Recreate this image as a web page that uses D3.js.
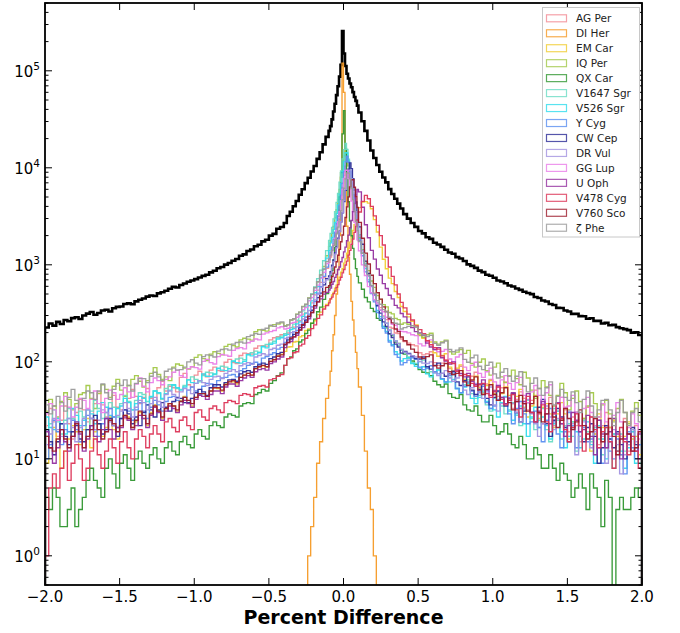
<!DOCTYPE html>
<html><head><meta charset="utf-8">
<script src="https://cdn.jsdelivr.net/npm/d3@7"></script>
<style>body{margin:0;background:#fff}svg{display:block}</style>
</head><body>
<svg id="c" width="680" height="633"></svg>
<script>
// ---- bin edges (percent difference) ----
const binEdges = [-2.000,-1.975,-1.950,-1.925,-1.900,-1.875,-1.850,-1.825,-1.800,-1.775,-1.750,-1.725,-1.700,-1.675,-1.650,-1.625,-1.600,-1.575,-1.550,-1.525,-1.500,-1.475,-1.450,-1.425,-1.400,-1.375,-1.350,-1.325,-1.300,-1.275,-1.250,-1.225,-1.200,-1.175,-1.150,-1.125,-1.100,-1.075,-1.050,-1.025,-1.000,-0.975,-0.950,-0.925,-0.900,-0.875,-0.850,-0.825,-0.800,-0.775,-0.750,-0.725,-0.700,-0.675,-0.650,-0.625,-0.600,-0.575,-0.550,-0.525,-0.500,-0.475,-0.450,-0.425,-0.400,
 -0.38,-0.36,-0.34,-0.32,-0.30,-0.28,-0.26,-0.24,-0.22,-0.20,-0.18,-0.16,-0.14,-0.12,-0.10,
 -0.09,-0.08,-0.07,-0.06,-0.05,-0.04,-0.03,-0.02,-0.01,0,0.01,0.02,0.03,0.04,0.05,0.06,0.07,0.08,0.09,0.10,
 0.12,0.14,0.16,0.18,0.20,0.22,0.24,0.26,0.28,0.30,0.32,0.34,0.36,0.38,0.40,
 0.425,0.450,0.475,0.500,0.525,0.550,0.575,0.600,0.625,0.650,0.675,0.700,0.725,0.750,0.775,0.800,0.825,0.850,0.875,0.900,0.925,0.950,0.975,1.000,1.025,1.050,1.075,1.100,1.125,1.150,1.175,1.200,1.225,1.250,1.275,1.300,1.325,1.350,1.375,1.400,1.425,1.450,1.475,1.500,1.525,1.550,1.575,1.600,1.625,1.650,1.675,1.700,1.725,1.750,1.775,1.800,1.825,1.850,1.875,1.900,1.925,1.950,1.975,2.000];

// ---- total (all stars) counts ----
const totalCounts = [226,248,236,258,245,270,262,282,288,276,300,314,326,306,318,338,344,330,356,368,372,394,400,392,420,436,450,470,482,476,508,522,540,566,592,584,620,642,668,690,712,739,768,790,836,868,922,948,1005,1042,1100,1148,1238,1280,1390,1440,1555,1612,1745,1815,2000,2085,2350,2450,
 2700,3190,3520,4010,4540,5280,6000,6950,7900,9150,10450,12350,14450,17450,20850,
 24000,26900,31600,38000,45700,56200,69200,87100,115000,257000,151000,112000,93300,83200,74100,67600,60300,53700,49000,43700,
 37200,30200,24000,19100,15100,12600,10700,9120,7940,7080,6030,5370,4790,4270,3800,
 3330,2990,2700,2460,2230,2110,1920,1850,1690,1620,1530,1430,1340,1300,1200,1160,1095,1010,975,930,870,840,790,770,735,690,672,645,612,598,570,552,528,512,498,465,455,428,418,395,385,360,358,338,330,312,312,296,295,278,281,264,264,248,252,238,240,228,222,217,212,200,201,189];

// ---- per-star counts ----
const agPer = [22,33,24,17,25,35,23,16,30,41,32,24,26,37,49,36,27,33,45,34,32,26,42,52,44,37,43,53,42,36,54,63,50,56,54,49,69,76,58,55,73,80,74,70,82,88,81,80,99,106,98,96,116,123,121,120,138,146,147,145,168,177,182,190,
 195,198,226,228,258,266,310,320,380,405,490,548,660,740,920,
 1060,1200,1430,1640,2010,2380,2980,3690,4810,6280,8350,10400,12100,10500,8280,6350,4750,3740,2930,2420,
 1800,1330,960,780,605,510,410,362,298,272,228,222,198,195,172,
 162,156,150,146,124,118,121,127,98,92,97,104,85,79,84,90,66,61,71,78,55,48,59,66,51,44,54,62,40,33,41,49,42,32,40,51,30,23,33,43,22,31,43,32,19,27,22,15,25,34,27,18,14,22,30,21,18,12,17,26,12,19,22,14];

const diHer = [0,0,0,0,0,0,0,0,0,0,0,0,0,0,0,0,0,0,0,0,0,0,0,0,0,0,0,0,0,0,0,0,0,0,0,0,0,0,0,0,0,0,0,0,0,0,0,0,0,0,0,0,0,0,0,0,0,0,0,0,0,0,0,0,
 0,0,0,0,0,0,0,0,1,2,4,9,15,26,42,
 57,80,130,190,300,500,900,2000,8000,120000,60000,12000,2500,1200,800,420,270,185,125,85,
 55,28,12,5,3,1,0,0,0,0,0,0,0,0,0,
 0,0,0,0,0,0,0,0,0,0,0,0,0,0,0,0,0,0,0,0,0,0,0,0,0,0,0,0,0,0,0,0,0,0,0,0,0,0,0,0,0,0,0,0,0,0,0,0,0,0,0,0,0,0,0,0,0,0,0,0,0,0,0,0];

const emCar = [9,13,21,15,8,12,16,22,19,14,20,26,13,19,23,17,21,27,20,16,22,28,27,21,24,30,26,22,30,36,31,26,33,37,35,31,40,44,38,35,43,47,47,44,50,54,53,50,59,63,62,59,69,73,76,73,85,89,91,88,101,106,116,120,
 128,142,143,160,162,181,186,210,218,250,265,306,325,368,390,
 425,445,490,520,575,615,690,745,840,910,1040,1150,1320,1480,1710,1940,2260,2590,3010,3390,
 3880,4420,4480,4320,3780,2920,2180,1520,1140,910,730,640,530,460,372,
 330,290,262,240,190,175,165,160,124,114,116,121,88,80,86,93,66,59,64,71,54,48,57,64,47,40,47,55,45,37,44,52,34,27,35,45,26,34,37,29,21,29,38,29,16,24,30,22,26,18,12,18,29,21,13,21,25,17,11,17,24,16,17,11];

const iqPer = [31,41,35,27,39,48,41,32,37,46,48,57,42,33,47,58,52,43,56,66,51,44,57,66,72,63,55,64,76,87,74,66,70,64,88,95,92,86,84,89,111,118,108,103,120,127,122,118,144,151,147,142,168,175,171,167,205,214,211,207,234,242,245,252,
 236,240,270,276,310,325,372,390,455,495,585,668,790,960,1240,
 1550,1760,2110,2490,3050,3690,4700,6000,7980,10400,13300,15100,13100,10500,7900,6060,4650,3740,3000,2530,
 1910,1430,1080,870,680,585,482,440,388,368,322,312,280,272,244,
 252,244,236,228,186,179,190,197,160,152,160,167,127,120,126,134,122,131,96,88,99,107,81,73,88,97,70,61,72,82,67,58,78,68,51,42,53,64,55,45,35,45,60,48,32,42,50,39,26,35,48,37,27,36,40,29,24,33,41,30,23,31,38,28];

const qxCar = [4,3,5,4,2,2,3,5,2,3,4,6,8,6,5,4,8,10,7,5,9,11,8,6,10,12,9,8,11,13,10,9,13,15,12,11,15,17,14,13,18,20,17,16,22,24,22,21,27,29,28,27,35,37,38,37,46,48,52,50,60,64,72,77,
 92,108,112,130,136,160,168,196,212,250,275,328,366,440,505,
 589,708,871,1122,1514,2138,3162,5012,8913,22400,38900,15850,7943,4467,2818,1995,1479,1148,912,759,
 650,560,460,415,355,330,280,268,232,224,195,186,160,155,132,
 120,110,102,94,83,78,77,72,63,58,55,59,47,43,42,46,36,32,31,35,28,24,24,28,22,18,19,23,18,14,13,17,14,10,10,13,11,8,8,11,8,6,9,7,6,4,5,7,5,3,7,5,4,2,6,4,0,3,4,3,3,4,5,4];

const v1647Sgr = [17,23,32,24,18,25,33,26,24,31,27,20,31,40,33,26,30,38,34,27,37,45,39,32,40,48,46,39,43,50,47,41,53,58,57,53,52,57,65,70,66,62,72,78,77,74,85,90,88,85,101,107,109,105,118,124,129,126,145,151,156,163,178,184,
 195,208,225,245,268,300,335,375,430,500,590,720,880,1100,1400,
 1780,2110,2430,2980,3520,4400,5450,7120,9300,12350,15400,17800,15500,12250,9380,7050,5520,4340,3570,2930,
 2040,1410,1030,760,600,490,410,340,290,250,215,190,165,148,132,
 124,112,98,96,100,104,85,79,78,83,67,62,69,74,53,48,58,65,47,42,45,51,36,31,42,49,35,29,32,38,28,22,32,40,26,20,25,33,20,15,33,25,16,22,23,17,12,17,25,19,15,21,16,11,21,15,8,12,18,12,14,20,13,9];

const v526Sgr = [27,21,20,26,23,18,26,33,28,22,25,32,29,23,31,38,34,28,27,33,35,42,38,32,37,44,42,36,44,50,48,42,47,51,58,54,51,55,65,61,60,64,75,71,71,75,86,82,81,85,102,98,97,101,119,115,120,124,143,139,151,156,172,177,
 188,192,215,220,246,258,295,318,380,425,515,595,740,905,1170,
 1400,1680,1910,2310,2730,3380,4140,5340,6880,9160,11700,14350,14200,11800,9080,6950,5280,4190,3320,2770,
 1860,1320,915,700,515,430,338,292,230,206,166,150,127,120,102,
 108,110,96,90,86,89,75,70,77,82,66,61,62,66,53,48,55,60,42,37,43,49,39,33,32,27,38,44,31,25,29,35,23,17,27,34,21,27,22,16,23,31,19,13,17,24,19,13,16,24,14,9,22,16,10,16,18,12,12,8,13,19,9,14];

const yCyg = [10,14,25,19,14,20,19,25,20,15,22,28,26,20,17,23,26,33,27,21,26,32,31,25,32,38,31,26,34,40,36,31,39,43,44,40,39,43,51,55,50,46,56,60,59,55,64,68,69,73,74,70,81,85,92,96,99,95,109,113,119,124,135,141,
 158,178,182,204,210,240,250,288,310,370,418,510,595,760,945,
 1130,1350,1530,1840,2170,2650,3210,4100,5220,6950,9080,11500,13200,11400,9150,6880,5280,4050,3250,2610,
 1780,1240,845,668,505,415,322,278,222,198,160,146,119,111,93,
 98,104,110,106,88,83,86,91,79,75,67,62,72,77,53,48,56,62,50,44,49,56,38,33,35,41,43,37,29,23,33,39,29,23,24,31,21,15,25,33,24,18,13,19,30,22,13,19,21,15,16,22,13,9,18,12,10,16,11,7,19,13,10,14];

const cwCep = [20,15,11,15,23,17,14,19,22,16,15,20,22,28,23,18,20,26,22,17,26,32,29,23,27,22,30,36,32,27,32,38,34,31,39,43,42,38,38,42,48,52,49,45,54,58,58,55,61,65,66,63,75,79,81,78,89,93,97,94,108,112,121,125,
 150,168,172,192,198,226,238,270,292,340,378,458,510,620,720,
 770,850,990,1120,1330,1530,1880,2220,2770,3440,4490,5850,7800,9700,11250,9800,7720,5910,4440,3490,
 2460,1630,1090,815,605,490,378,318,258,232,194,178,152,142,123,
 128,122,114,108,107,112,89,84,92,97,76,71,75,80,62,57,64,70,51,46,52,59,42,36,43,50,41,35,40,47,30,24,31,38,30,24,34,41,23,17,25,33,27,21,15,21,30,22,15,21,23,17,9,13,22,16,13,19,14,10,15,21,14,10];

const drVul = [14,18,26,20,17,23,26,21,15,21,26,32,26,20,25,32,30,24,22,28,31,38,33,27,34,40,38,32,37,43,39,34,46,50,46,42,49,53,51,47,60,64,61,57,66,70,71,67,76,80,83,79,91,95,98,94,112,116,121,117,134,138,148,152,
 174,178,200,205,230,240,276,290,338,365,435,495,585,660,700,
 735,800,945,1080,1290,1500,1840,2190,2780,3480,4600,5990,7800,9400,9480,7720,6060,4540,3530,2730,
 1980,1395,1000,775,595,490,392,340,280,250,210,192,164,154,135,
 126,120,115,112,101,97,96,100,77,72,76,81,68,63,68,73,51,46,54,60,48,42,49,55,36,31,37,43,43,37,30,24,33,41,29,23,17,23,35,27,20,26,23,17,31,23,11,17,24,18,13,19,25,17,9,15,20,14,7,11,14,20,15,10];

const ggLup = [29,37,32,25,35,44,34,27,34,42,40,33,41,50,37,30,42,51,48,41,46,54,49,43,59,68,56,49,61,68,64,58,66,70,78,82,72,69,85,89,87,84,101,106,98,95,113,119,117,114,131,137,140,136,157,163,172,168,193,199,205,210,224,230,
 218,222,250,255,288,300,345,362,425,458,545,618,730,835,1030,
 1150,1260,1400,1600,1880,2250,2780,3520,4580,6000,7760,9400,9450,7740,6030,4550,3520,2740,2220,1810,
 1390,1000,775,595,515,436,402,345,328,288,272,244,238,212,206,
 204,199,190,186,153,146,161,168,134,127,128,134,107,100,112,119,88,81,92,99,76,69,79,86,62,55,65,72,60,52,61,69,45,38,49,57,45,37,48,58,29,37,43,34,35,45,30,22,33,43,30,22,27,37,24,17,28,38,24,16,21,29,23,16];

const uOph = [19,13,9,13,20,15,12,17,24,18,12,16,22,17,15,20,26,20,16,21,21,27,25,20,22,28,26,21,28,34,30,25,31,35,33,30,36,40,37,34,41,45,44,41,46,50,50,47,55,59,59,56,64,68,72,69,79,83,85,82,96,100,107,112,
 140,158,162,181,188,214,225,256,278,322,358,415,445,498,520,
 550,575,630,672,742,795,890,950,1075,1190,1360,1520,1770,2020,2410,2860,3530,4290,5240,6000,
 5650,3920,2590,1900,1410,1145,905,780,640,570,485,445,382,360,315,
 290,255,225,205,198,188,156,142,134,140,110,102,95,100,82,76,70,76,63,58,59,65,51,45,50,57,43,37,42,48,39,33,39,47,30,24,31,39,29,23,30,38,23,17,22,30,25,19,20,28,17,11,25,18,13,19,26,18,10,16,18,12,12,18];

const v478Cyg = [1,5,7,5,8,12,6,9,14,10,6,8,12,16,11,8,12,16,13,9,15,19,13,10,16,20,17,13,18,22,18,15,24,26,21,19,25,27,22,20,30,32,27,25,33,35,32,30,38,40,39,37,45,47,46,44,54,56,57,55,65,67,71,74,
 92,108,110,124,127,146,152,175,186,220,240,280,305,350,380,
 405,445,465,505,535,585,625,695,745,825,895,995,1090,1260,1410,1630,1840,2160,2490,2910,
 3500,4500,5200,4800,4000,3200,2550,2000,1600,1200,950,760,620,500,410,
 360,310,270,235,215,195,165,150,140,135,115,104,98,96,80,72,74,72,60,56,58,60,47,43,49,55,41,36,40,46,32,27,37,44,30,24,29,36,24,19,29,37,26,20,15,21,29,22,12,18,27,20,13,19,21,15,8,12,21,15,11,17,12,8];

const v760Sco = [17,13,12,16,20,16,13,17,23,19,13,17,20,25,20,16,19,25,23,19,22,28,26,21,25,31,28,23,29,35,31,27,33,37,35,32,39,43,40,37,43,47,47,44,50,54,54,51,58,62,64,61,69,73,76,73,85,89,92,89,101,105,114,118,
 152,158,176,181,200,212,241,256,296,322,380,415,475,525,585,
 610,655,755,820,950,1075,1255,1440,1730,2030,2500,3070,3950,5010,6350,7520,7560,6300,5060,3900,
 2740,1880,1320,1020,780,640,515,442,368,330,278,252,218,205,180,
 165,150,135,125,112,108,113,118,91,86,91,96,79,74,76,81,62,57,65,70,51,46,52,58,46,40,48,54,38,32,39,45,37,31,37,44,30,24,29,37,27,21,25,33,26,20,24,32,22,16,19,26,21,15,18,26,17,11,16,24,18,12,13,19];

const zetaPhe = [36,29,35,44,38,31,43,52,40,33,42,50,48,41,50,59,48,41,52,60,57,65,57,50,60,67,67,61,71,78,70,64,80,84,86,82,83,88,100,105,97,93,113,118,116,112,129,134,136,132,152,158,160,156,182,188,196,192,216,222,238,232,251,257,
 232,240,270,278,308,325,370,392,452,495,580,668,785,900,1080,
 1150,1260,1400,1580,1800,2080,2450,2950,3600,4700,6150,7700,8850,8800,7700,6150,4700,3600,2800,2250,
 1740,1310,990,790,612,508,428,392,345,328,288,278,250,244,218,
 225,232,236,228,196,189,182,188,155,148,157,164,134,127,132,139,106,99,110,117,90,83,92,99,75,68,78,85,71,63,71,79,56,49,60,68,53,45,54,62,36,44,52,43,40,49,38,30,41,50,35,27,32,40,41,32,22,30,40,30,22,30,33,24];

const seriesNames = ["AG Per","DI Her","EM Car","IQ Per","QX Car","V1647 Sgr","V526 Sgr","Y Cyg","CW Cep","DR Vul","GG Lup","U Oph","V478 Cyg","V760 Sco","\u03B6 Phe"];
const seriesValues = [agPer,diHer,emCar,iqPer,qxCar,v1647Sgr,v526Sgr,yCyg,cwCep,drVul,ggLup,uOph,v478Cyg,v760Sco,zetaPhe];
const seriesColors = ["#f28a94","#f59a25","#f0cc30","#a2c848","#2f962f","#6cdcc4","#30dcec","#5a8ef0","#2c2c96","#a292e0","#ea7ee8","#93309f","#dc3456","#9c1a2a","#9a9a9a"];

const xTicks = [-2.0,-1.5,-1.0,-0.5,0.0,0.5,1.0,1.5,2.0];
const yTicks = [1,10,100,1000,10000,100000];
const yExponents = ["0","1","2","3","4","5"];

// ---- layout ----
const svg = d3.select("#c");
const m = {l:45, r:642, t:3, b:585};
const x = d3.scaleLinear().domain([-2,2]).range([m.l,m.r]);
const y = d3.scaleLog().domain([0.5,5e5]).range([m.b,m.t]);
const font = "'DejaVu Sans', 'Liberation Sans', sans-serif";

[totalCounts, ...seriesValues].forEach((a,i)=>{ if (a.length !== binEdges.length-1) console.warn("length mismatch", i, a.length); });

svg.append("rect").attr("width",680).attr("height",633).attr("fill","#fff");
svg.append("defs").append("clipPath").attr("id","clip")
  .append("rect").attr("x",m.l).attr("y",m.t).attr("width",m.r-m.l).attr("height",m.b-m.t);

const plot = svg.append("g").attr("clip-path","url(#clip)");

function stepPoints(vals){
  const p = [[binEdges[0],0]];
  vals.forEach((v,i)=>{ p.push([binEdges[i],v]); p.push([binEdges[i+1],v]); });
  p.push([binEdges[binEdges.length-1],0]);
  return p;
}
const line = d3.line().x(d=>x(d[0])).y(d=> d[1]>0 ? y(d[1]) : m.b+30);

plot.append("path").attr("d",line(stepPoints(totalCounts)))
  .attr("fill","none").attr("stroke","#000").attr("stroke-width",2.6).attr("stroke-linejoin","miter");

seriesValues.forEach((vals,i)=>{
  plot.append("path").attr("d",line(stepPoints(vals)))
    .attr("fill","none").attr("stroke",seriesColors[i]).attr("stroke-width",1.35)
    .attr("stroke-opacity",0.95);
});

// ---- ticks ----
const axes = svg.append("g");
const minor = [];
for (let e=-1;e<=5;e++) for (let k=2;k<=9;k++){ const v=k*Math.pow(10,e); if (v>=0.5 && v<=5e5) minor.push(v); }
minor.forEach(v=>{
  axes.append("line").attr("x1",m.l).attr("x2",m.l+3.5).attr("y1",y(v)).attr("y2",y(v)).attr("stroke","#000").attr("stroke-width",1);
  axes.append("line").attr("x1",m.r).attr("x2",m.r-3.5).attr("y1",y(v)).attr("y2",y(v)).attr("stroke","#000").attr("stroke-width",1);
});
yTicks.forEach((v,i)=>{
  axes.append("line").attr("x1",m.l).attr("x2",m.l+7).attr("y1",y(v)).attr("y2",y(v)).attr("stroke","#000").attr("stroke-width",1);
  axes.append("line").attr("x1",m.r).attr("x2",m.r-7).attr("y1",y(v)).attr("y2",y(v)).attr("stroke","#000").attr("stroke-width",1);
  const t = axes.append("text").attr("x",40).attr("y",y(v)+6).attr("text-anchor","end")
    .attr("font-family",font).attr("font-size",15).attr("fill","#000");
  t.append("tspan").text("10");
  t.append("tspan").attr("dy",-7).attr("font-size",10.5).text(yExponents[i]);
});
xTicks.forEach(v=>{
  axes.append("line").attr("x1",x(v)).attr("x2",x(v)).attr("y1",m.b).attr("y2",m.b-7).attr("stroke","#000").attr("stroke-width",1);
  axes.append("line").attr("x1",x(v)).attr("x2",x(v)).attr("y1",m.t).attr("y2",m.t+7).attr("stroke","#000").attr("stroke-width",1);
  axes.append("text").attr("x",x(v)).attr("y",602).attr("text-anchor","middle")
    .attr("font-family",font).attr("font-size",15).attr("fill","#000")
    .text(v.toFixed(1).replace("-","\u2212"));
});
axes.append("rect").attr("x",m.l).attr("y",m.t).attr("width",m.r-m.l).attr("height",m.b-m.t)
  .attr("fill","none").attr("stroke","#000").attr("stroke-width",1.8);

svg.append("text").attr("x",(m.l+m.r)/2).attr("y",624).attr("text-anchor","middle")
  .attr("font-family",font).attr("font-size",19).attr("font-weight","bold").attr("fill","#000")
  .text("Percent Difference");

// ---- legend ----
const lg = svg.append("g");
lg.append("rect").attr("x",542.5).attr("y",7.5).attr("width",97).attr("height",229.5)
  .attr("fill","#fff").attr("stroke","#c8c8c8").attr("stroke-width",1);
seriesNames.forEach((n,i)=>{
  const cy = 18.3 + i*14.96;
  lg.append("rect").attr("x",546.5).attr("y",cy-3.5).attr("width",20).attr("height",7)
    .attr("fill","#fff").attr("stroke",seriesColors[i]).attr("stroke-width",1.2).attr("stroke-opacity",0.8);
  lg.append("text").attr("x",576).attr("y",cy+3.8).attr("font-family",font).attr("font-size",10.5)
    .attr("fill","#222").text(n);
});
</script>
</body></html>
